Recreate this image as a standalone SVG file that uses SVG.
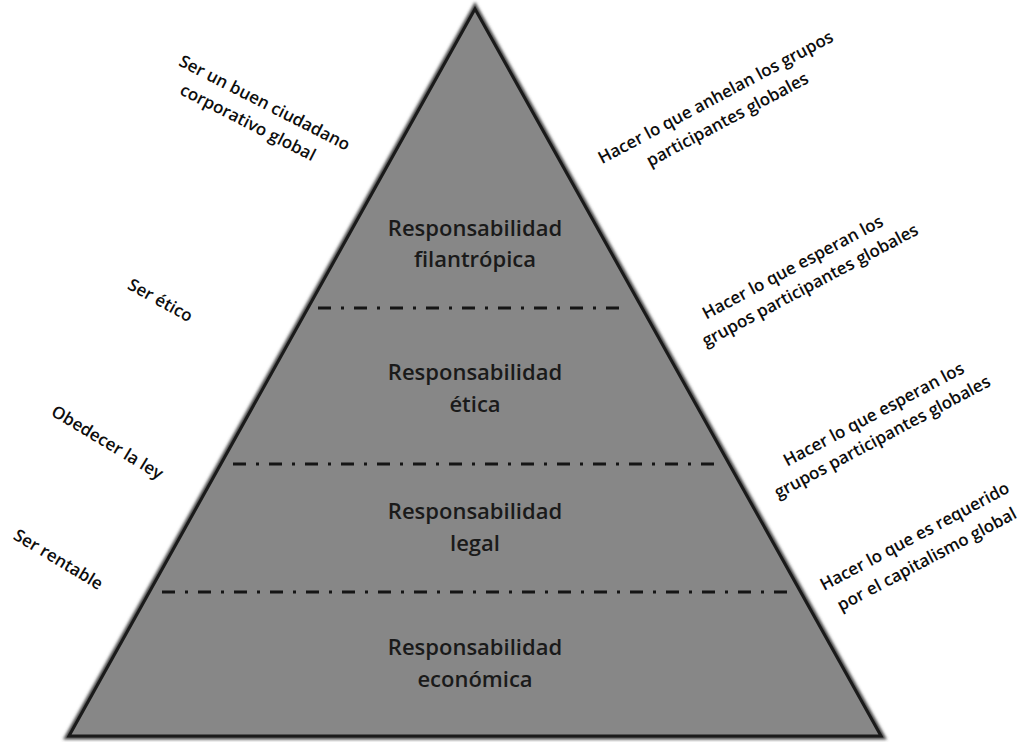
<svg xmlns="http://www.w3.org/2000/svg" width="1019" height="742" viewBox="0 0 1019 742">
  <defs>
    <filter id="soft" x="-5%" y="-5%" width="110%" height="110%">
      <feGaussianBlur stdDeviation="1.6"/>
    </filter>
    <style>
      .tier { font-family: "Open Sans", "Liberation Sans", sans-serif; font-size: 22px; font-weight: 600; fill: #1a1a1a; text-anchor: middle; }
      .side { font-family: "Open Sans", "Liberation Sans", sans-serif; font-size: 17px; font-weight: 600; fill: #0d0d0d; text-anchor: middle; }
      .divider { stroke: #151515; stroke-width: 3; stroke-dasharray: 13 10 3 10; fill: none; }
    </style>
  </defs>
  <rect width="1019" height="742" fill="#ffffff"/>

  <!-- pyramid body -->
  <g id="pyramid">
    <polygon points="475,9 69,736 881,736" fill="none" stroke="#444" stroke-width="7" filter="url(#soft)"/>
    <polygon points="475,9 69,736 881,736" fill="#878787" stroke="#1a1a1a" stroke-width="3" stroke-linejoin="miter"/>
  </g>

  <!-- tier dividers -->
  <g id="connectors">
    <line class="divider" x1="318" y1="308" x2="626" y2="308"/>
    <line class="divider" x1="233" y1="464" x2="720" y2="464"/>
    <line class="divider" x1="162" y1="592" x2="790" y2="592"/>
  </g>

  <!-- tier labels -->
  <g id="tier-philanthropic">
    <text class="tier" x="475" y="236">Responsabilidad</text>
    <text class="tier" x="475" y="267">filantrópica</text>
  </g>
  <g id="tier-ethical">
    <text class="tier" x="475" y="380">Responsabilidad</text>
    <text class="tier" x="475" y="412">ética</text>
  </g>
  <g id="tier-legal">
    <text class="tier" x="475" y="519">Responsabilidad</text>
    <text class="tier" x="475" y="551">legal</text>
  </g>
  <g id="tier-economic">
    <text class="tier" x="475" y="655">Responsabilidad</text>
    <text class="tier" x="475" y="687">económica</text>
  </g>

  <!-- left-hand captions -->
  <g id="left-citizen" transform="translate(262,108) rotate(27)">
    <text class="side" x="0" y="0">Ser un buen ciudadano</text>
    <text class="side" x="-6" y="25">corporativo global</text>
  </g>
  <g id="left-ethical" transform="translate(160,301) rotate(29)">
    <text class="side" x="0" y="5">Ser ético</text>
  </g>
  <g id="left-law" transform="translate(107,443) rotate(31)">
    <text class="side" x="0" y="5">Obedecer la ley</text>
  </g>
  <g id="left-profit" transform="translate(58,560) rotate(31)">
    <text class="side" x="0" y="5">Ser rentable</text>
  </g>

  <!-- right-hand captions -->
  <g id="right-desired" transform="translate(716,98) rotate(-28)">
    <text class="side" x="0" y="5">Hacer lo que anhelan los grupos</text>
    <text class="side" x="0" y="30">participantes globales</text>
  </g>
  <g id="right-expected-1" transform="translate(793,268) rotate(-28)">
    <text class="side" x="0" y="5">Hacer lo que esperan los</text>
    <text class="side" x="7" y="29">grupos participantes globales</text>
  </g>
  <g id="right-expected-2" transform="translate(874,415) rotate(-28)">
    <text class="side" x="0" y="5">Hacer lo que esperan los</text>
    <text class="side" x="-3" y="29">grupos participantes globales</text>
  </g>
  <g id="right-required" transform="translate(915,537) rotate(-28)">
    <text class="side" x="0" y="5">Hacer lo que es requerido</text>
    <text class="side" x="0" y="31">por el capitalismo global</text>
  </g>
</svg>
